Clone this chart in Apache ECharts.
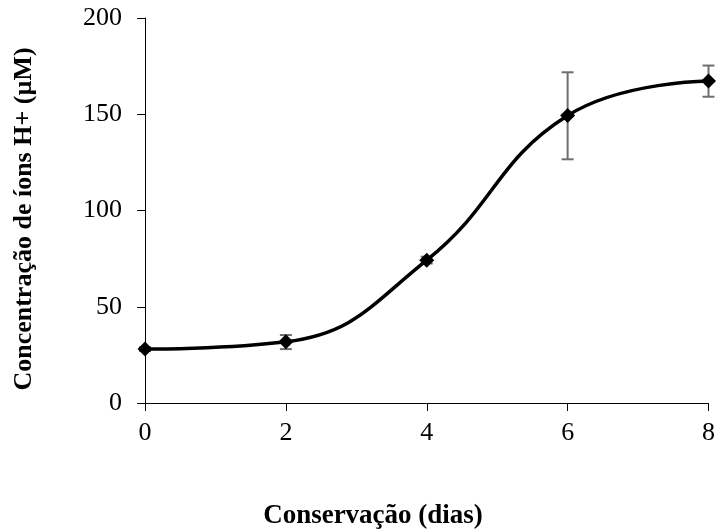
<!DOCTYPE html>
<html><head><meta charset="utf-8">
<script src="https://cdn.jsdelivr.net/npm/echarts@6/dist/echarts.min.js"></script>
<style>html,body{margin:0;padding:0;background:#fff}#c{width:718px;height:531px}</style>
</head><body><div id="c"></div>
<script>
const days = [0, 2, 4, 6, 8];
const concentration = [28, 31.8, 74.2, 149.3, 167.3];
const errLow = [27, 28, 72.5, 126.6, 159.1];
const errHigh = [29, 35.3, 76, 171.8, 175.3];
const yTicks = [0, 50, 100, 150, 200];
const xTitle = 'Conservação (dias)';
const yTitle = 'Concentração de íons H+ (µM)';

const chart = echarts.init(document.getElementById('c'));
const font = '"Liberation Serif", "Times New Roman", serif';
chart.setOption({
  animation: false,
  grid: {left: 145, right: 8, top: 18, bottom: 128, containLabel: false},
  graphic: [
    {type: 'text', x: 373, y: 516, style: {text: xTitle, fontFamily: font, fontSize: 27, fontWeight: 'bold', fill: '#000', align: 'center', verticalAlign: 'middle'}},
    {type: 'text', x: 24, y: 219, rotation: Math.PI / 2, style: {text: yTitle, fontFamily: font, fontSize: 26, fontWeight: 'bold', fill: '#000', align: 'center', verticalAlign: 'middle'}}
  ],
  xAxis: {
    type: 'value', min: 0, max: 8, interval: 2,
    axisLine: {lineStyle: {color: '#000', width: 1}},
    axisTick: {show: true, inside: false, length: 8, lineStyle: {color: '#000'}},
    axisLabel: {fontFamily: font, fontSize: 26, color: '#000', margin: 17},
    splitLine: {show: false}
  },
  yAxis: {
    type: 'value', min: yTicks[0], max: yTicks[yTicks.length - 1], interval: 50,
    axisLine: {show: true, lineStyle: {color: '#000', width: 1}},
    axisTick: {show: true, inside: false, length: 8, lineStyle: {color: '#000'}},
    axisLabel: {fontFamily: font, fontSize: 26, color: '#000', margin: 23},
    splitLine: {show: false}
  },
  series: [
    {
      type: 'custom',
      data: days.map((d, i) => [d, errLow[i], errHigh[i]]),
      renderItem: function (params, api) {
        const lo = api.coord([api.value(0), api.value(1)]);
        const hi = api.coord([api.value(0), api.value(2)]);
        const w = 6;
        const st = {stroke: '#6e6e6e', lineWidth: 2};
        return {type: 'group', children: [
          {type: 'line', shape: {x1: lo[0], y1: lo[1], x2: hi[0], y2: hi[1]}, style: st},
          {type: 'line', shape: {x1: lo[0]-w, y1: lo[1], x2: lo[0]+w, y2: lo[1]}, style: st},
          {type: 'line', shape: {x1: hi[0]-w, y1: hi[1], x2: hi[0]+w, y2: hi[1]}, style: st}
        ]};
      },
      z: 1
    },
    {
      type: 'line',
      data: days.map((d, i) => [d, concentration[i]]),
      smooth: 0.45,
      symbol: 'diamond', symbolSize: 15,
      lineStyle: {color: '#000', width: 3.5},
      itemStyle: {color: '#000'},
      z: 3
    }
  ]
});
</script></body></html>
